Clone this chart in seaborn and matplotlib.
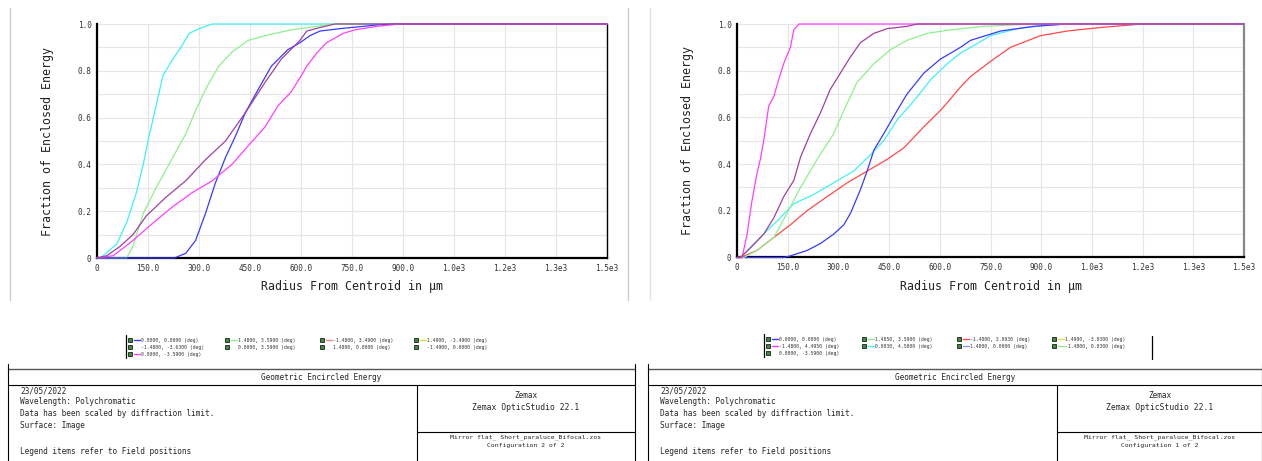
import matplotlib
matplotlib.use("Agg")
import matplotlib.pyplot as plt
import matplotlib.colors as mcolors
import seaborn as sns
import pandas as pd
import numpy as np
from matplotlib.lines import Line2D
from matplotlib.patches import Rectangle

W, H = 1262, 461

# ---------------- data ----------------
XTICKS = [0, 150, 300, 450, 600, 750, 900, 1050, 1200, 1350, 1500]
XTICKLABELS = ["0", "150.0", "300.0", "450.0", "600.0", "750.0", "900.0",
               "1.0e3", "1.2e3", "1.3e3", "1.5e3"]
YTICKS = [0, 0.2, 0.4, 0.6, 0.8, 1.0]
YTICKLABELS = ["0", "0.2", "0.4", "0.6", "0.8", "1.0"]

# Left panel (Configuration 2 of 2)
L_BLUE_R = [0, 227, 261, 290, 319, 348, 378, 407, 436, 474, 513, 561, 597, 626, 656, 714, 832, 882, 1500]
L_BLUE_E = [0, 0, 0.02, 0.075, 0.19, 0.32, 0.43, 0.52, 0.62, 0.72, 0.82, 0.89, 0.92, 0.95, 0.97, 0.98, 0.997, 1.0, 1.0]
L_GREEN_R = [0, 87, 106, 136, 174, 223, 261, 290, 319, 358, 397, 445, 494, 571, 649, 685, 1500]
L_GREEN_E = [0, 0, 0.05, 0.19, 0.30, 0.43, 0.53, 0.63, 0.72, 0.82, 0.88, 0.93, 0.95, 0.975, 0.99, 1.0, 1.0]
L_CYAN_R = [0, 10, 58, 87, 116, 136, 150, 169, 194, 223, 247, 271, 300, 339, 1500]
L_CYAN_E = [0, 0, 0.06, 0.15, 0.28, 0.40, 0.50, 0.62, 0.78, 0.85, 0.90, 0.96, 0.98, 1.0, 1.0]
L_MAGENTA_R = [0, 48, 106, 165, 223, 281, 339, 397, 445, 494, 532, 571, 597, 617, 646, 675, 724, 759, 823, 891, 1500]
L_MAGENTA_E = [0, 0.01, 0.075, 0.15, 0.22, 0.28, 0.33, 0.40, 0.48, 0.56, 0.65, 0.71, 0.77, 0.82, 0.875, 0.92, 0.96, 0.975, 0.99, 1.0, 1.0]
L_PURPLE_R = [0, 29, 68, 106, 145, 203, 261, 319, 378, 436, 494, 542, 597, 617, 656, 700, 1500]
L_PURPLE_E = [0, 0.01, 0.05, 0.10, 0.18, 0.26, 0.33, 0.42, 0.50, 0.62, 0.75, 0.85, 0.93, 0.97, 0.985, 1.0, 1.0]

# Right panel (Configuration 1 of 2)
R_BLUE_R = [0, 138, 158, 207, 247, 286, 316, 336, 365, 385, 405, 434, 474, 503, 553, 602, 632, 661, 691, 780, 878, 977, 1500]
R_BLUE_E = [0, 0, 0.007, 0.03, 0.06, 0.10, 0.14, 0.19, 0.29, 0.37, 0.46, 0.53, 0.63, 0.70, 0.79, 0.85, 0.875, 0.90, 0.93, 0.97, 0.99, 1.0, 1.0]
R_GREEN_R = [0, 20, 59, 109, 148, 188, 237, 286, 316, 355, 405, 454, 503, 563, 632, 730, 829, 928, 1500]
R_GREEN_E = [0, 0, 0.03, 0.086, 0.19, 0.30, 0.42, 0.53, 0.63, 0.75, 0.83, 0.89, 0.93, 0.96, 0.975, 0.99, 0.997, 1.0, 1.0]
R_RED_R = [0, 10, 59, 109, 158, 207, 266, 326, 385, 444, 494, 553, 602, 632, 661, 691, 750, 809, 898, 977, 1076, 1174, 1185, 1500]
R_RED_E = [0, 0, 0.03, 0.086, 0.14, 0.20, 0.26, 0.32, 0.37, 0.42, 0.47, 0.56, 0.63, 0.68, 0.73, 0.775, 0.84, 0.90, 0.95, 0.97, 0.985, 0.997, 1.0, 1.0]
R_CYAN_R = [0, 10, 49, 89, 128, 168, 227, 286, 345, 395, 434, 474, 523, 572, 622, 661, 691, 750, 829, 928, 977, 1500]
R_CYAN_E = [0, 0, 0.057, 0.115, 0.17, 0.23, 0.27, 0.32, 0.37, 0.44, 0.50, 0.59, 0.67, 0.76, 0.83, 0.875, 0.90, 0.95, 0.98, 0.997, 1.0, 1.0]
R_MAGENTA_R = [0, 15, 30, 44, 59, 69, 79, 94, 109, 123, 138, 158, 168, 183, 1500]
R_MAGENTA_E = [0, 0, 0.10, 0.24, 0.36, 0.42, 0.50, 0.65, 0.69, 0.76, 0.83, 0.90, 0.975, 1.0, 1.0]
R_PURPLE_R = [0, 10, 39, 59, 79, 109, 138, 168, 188, 217, 247, 276, 306, 336, 365, 405, 444, 503, 533, 1500]
R_PURPLE_E = [0, 0, 0.04, 0.07, 0.10, 0.17, 0.26, 0.33, 0.43, 0.53, 0.62, 0.72, 0.79, 0.86, 0.92, 0.96, 0.98, 0.99, 1.0, 1.0]

L_LEGEND_LABELS = ["0.0000, 0.0000 (deg)", "1.4800, 3.5900 (deg)", "-1.4800, 3.4900 (deg)",
                   "1.4900, -3.4900 (deg)", "-1.4800, -3.6300 (deg)", "0.0000, 3.5900 (deg)",
                   "1.4800, 0.0000 (deg)", "-1.4900, 0.0000 (deg)", "0.0000, -3.5900 (deg)"]
R_LEGEND_LABELS = ["0.0000, 0.0000 (deg)", "1.4850, 3.5900 (deg)", "-1.4800, 3.0930 (deg)",
                   "1.4900, -3.0300 (deg)", "-1.4800, 4.4950 (deg)", "0.0030, 4.5000 (deg)",
                   "1.4800, 0.0000 (deg)", "-1.4800, 0.0300 (deg)", "0.0000, -3.5900 (deg)"]

C_BLUE = "#3a3aff"
C_GREEN = "#8ef08e"
C_RED = "#ff4a4a"
C_CYAN = "#40f0f8"
C_MAGENTA = "#ff40ff"
C_PURPLE = "#a040a0"
C_YELLOW = "#e0e040"
C_LBLUE = "#9090ff"
L_LEGEND_COLORS = [C_BLUE, C_GREEN, "#ff8080", C_YELLOW, None, None, None, None, C_MAGENTA]
R_LEGEND_COLORS = [C_BLUE, C_GREEN, C_RED, C_YELLOW, C_MAGENTA, C_CYAN, C_LBLUE, C_GREEN, None]

# ---------------- style ----------------
sns.set_style("white")
plt.rcParams["font.family"] = ["DejaVu Sans Mono", "DejaVu Sans"]
FONT = "DejaVu Sans Mono"

fig = plt.figure(figsize=(W / 100, H / 100), dpi=100)


def fx(x):
    return x / W


def fy(y):
    return 1 - y / H


def make_df(series):
    frames = []
    for name, r, e in series:
        frames.append(pd.DataFrame({"r": r, "e": e, "series": name}))
    return pd.concat(frames, ignore_index=True)


def panel(x0, x1, ytop, ybot, series, palette, right_spine_color):
    ax = fig.add_axes([fx(x0), fy(ybot), fx(x1 - x0), (ybot - ytop) / H])
    df = make_df(series)
    order = [s[0] for s in series]
    sns.lineplot(data=df, x="r", y="e", hue="series", hue_order=order, palette=palette,
                 estimator=None, sort=False, legend=False, lw=0.9, ax=ax)
    # stacking order: later series in `order` drawn on top
    rank = {mcolors.to_hex(palette[n]): i for i, n in enumerate(order)}
    for ln in ax.get_lines():
        ln.set_clip_on(False)
        ln.set_zorder(3 + 0.1 * rank.get(mcolors.to_hex(ln.get_color()), 0))
    ax.set_xlim(0, 1500)
    ax.set_ylim(0, 1.0)
    ax.set_xticks(XTICKS)
    ax.set_xticklabels(XTICKLABELS)
    ax.set_yticks(YTICKS)
    ax.set_yticklabels(YTICKLABELS)
    ax.set_yticks(np.arange(0.1, 1.0, 0.2), minor=True)
    ax.grid(True, which="both", color="#e6e6e6", lw=0.8)
    ax.tick_params(axis="both", which="both", length=0, labelsize=5.6, pad=4,
                   labelcolor="#333333")
    for lab in ax.get_xticklabels() + ax.get_yticklabels():
        lab.set_fontfamily(FONT)
    ax.set_xlabel("Radius From Centroid in µm", fontsize=8.4, fontfamily=FONT,
                  labelpad=5.5, color="#222222")
    ax.set_ylabel("Fraction of Enclosed Energy", fontsize=8.4, fontfamily=FONT,
                  labelpad=17, color="#222222")
    ax.spines["left"].set_color("black")
    ax.spines["left"].set_linewidth(1.6)
    ax.spines["bottom"].set_color("black")
    ax.spines["bottom"].set_linewidth(1.6)
    ax.spines["right"].set_color(right_spine_color)
    ax.spines["right"].set_linewidth(1.0 if right_spine_color == "black" else 1.6)
    ax.spines["top"].set_visible(False)
    return ax


left_series = [("cyan", L_CYAN_R, L_CYAN_E), ("green", L_GREEN_R, L_GREEN_E),
               ("blue", L_BLUE_R, L_BLUE_E), ("magenta", L_MAGENTA_R, L_MAGENTA_E),
               ("purple", L_PURPLE_R, L_PURPLE_E)]
left_pal = {"cyan": C_CYAN, "green": C_GREEN, "blue": C_BLUE,
            "magenta": C_MAGENTA, "purple": C_PURPLE}
panel(97, 607, 24, 258, left_series, left_pal, "black")

right_series = [("red", R_RED_R, R_RED_E), ("cyan", R_CYAN_R, R_CYAN_E),
                ("blue", R_BLUE_R, R_BLUE_E), ("green", R_GREEN_R, R_GREEN_E),
                ("magenta", R_MAGENTA_R, R_MAGENTA_E), ("purple", R_PURPLE_R, R_PURPLE_E)]
right_pal = {"red": C_RED, "cyan": C_CYAN, "blue": C_BLUE, "green": C_GREEN,
             "magenta": C_MAGENTA, "purple": C_PURPLE}
panel(737, 1244, 24, 257.5, right_series, right_pal, "#888888")


# ---------------- frame lines ----------------
def hline(x0, x1, y, color="black", lw=0.8):
    fig.add_artist(Line2D([fx(x0), fx(x1)], [fy(y), fy(y)], color=color, lw=lw,
                          transform=fig.transFigure))


def vline(x, y0, y1, color="black", lw=0.8):
    fig.add_artist(Line2D([fx(x), fx(x)], [fy(y0), fy(y1)], color=color, lw=lw,
                          transform=fig.transFigure))


vline(10, 8, 300, color="#cccccc", lw=1.0)
vline(628, 8, 300, color="#cccccc", lw=1.0)
vline(650, 8, 300, color="#e4e4e4", lw=1.0)


def legend_block(x0, y0, labels, colors, colx, rowy, rightbar=None):
    vline(x0 - 2, rowy[0] - 5, rowy[-1] + 4, color="black", lw=0.9)
    if rightbar is not None:
        vline(rightbar, rowy[0] - 3, rowy[-1] + 6, color="black", lw=0.9)
    for i, (lab, col) in enumerate(zip(labels, colors)):
        r, c = divmod(i, 4)
        x = colx[c]
        y = rowy[r]
        fig.add_artist(Rectangle((fx(x), fy(y) - 2.2 / H), 4.4 / W, 4.4 / H,
                                 facecolor="#3c8a3c", edgecolor="black", lw=0.5,
                                 transform=fig.transFigure))
        if col is not None:
            hline(x + 5.5, x + 12, y, color=col, lw=1.0)
        fig.text(fx(x + 13), fy(y), lab, fontsize=3.4, fontfamily=FONT,
                 va="center", ha="left", color="#333333")


legend_block(128, 340, L_LEGEND_LABELS, L_LEGEND_COLORS,
             [128, 225, 320, 414], [340, 347, 354])
legend_block(766, 338, R_LEGEND_LABELS, R_LEGEND_COLORS,
             [766, 862, 957, 1052], [339, 346, 353], rightbar=1152)


# ---------------- footer boxes ----------------
def footer(x0, x1, xdiv, config):
    top, tbot, hsplit, bot = 369, 385, 432, 470
    hline(x0, x1, top, color="#555555", lw=1.0)
    hline(x0, x1, tbot)
    vline(x0, top - 5, bot)
    vline(x1, top - 5, bot)
    vline(xdiv, tbot, bot)
    hline(xdiv, x1, hsplit)
    fig.text(fx((x0 + x1) / 2), fy(377), "Geometric Encircled Energy",
             fontsize=5.6, fontfamily=FONT, ha="center", va="center")
    lines = [("23/05/2022", 390.5), ("Wavelength: Polychromatic", 401),
             ("Data has been scaled by diffraction limit.", 413),
             ("Surface: Image", 425), ("Legend items refer to Field positions", 451)]
    for t, y in lines:
        fig.text(fx(x0 + 12), fy(y), t, fontsize=5.6, fontfamily=FONT,
                 ha="left", va="center")
    cx = (xdiv + x1) / 2
    fig.text(fx(cx), fy(396), "Zemax", fontsize=5.6, fontfamily=FONT, ha="center", va="center")
    fig.text(fx(cx), fy(407), "Zemax OpticStudio 22.1", fontsize=5.8, fontfamily=FONT,
             ha="center", va="center")
    fig.text(fx(cx), fy(437), "Mirror flat_ Short_paraluce_Bifocal.zos", fontsize=4.6,
             fontfamily=FONT, ha="center", va="center")
    fig.text(fx(cx), fy(445), config, fontsize=4.6, fontfamily=FONT,
             ha="center", va="center")


footer(8, 635, 417, "Configuration 2 of 2")
footer(648, 1262, 1057, "Configuration 1 of 2")

fig.savefig("out.png", dpi=100)
